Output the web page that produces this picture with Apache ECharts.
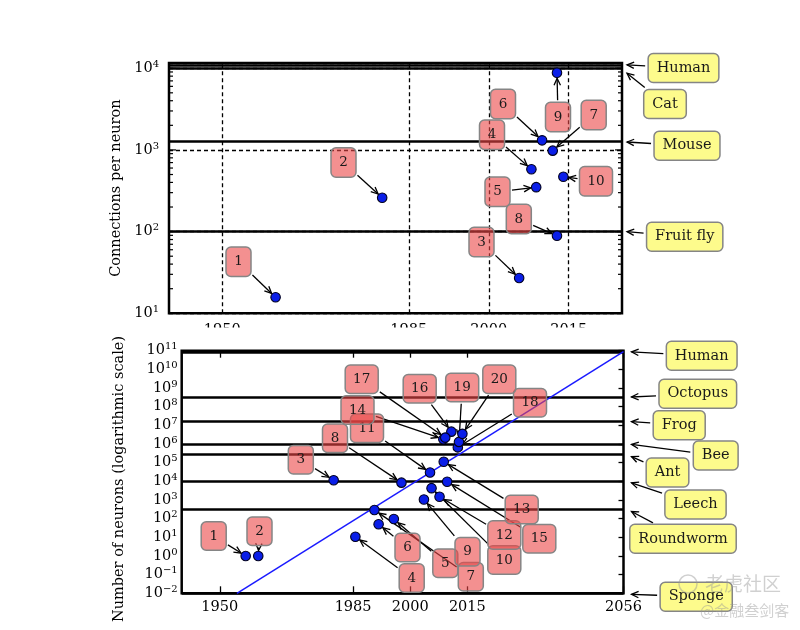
<!DOCTYPE html>
<html><head><meta charset="utf-8">
<script src="https://cdn.jsdelivr.net/npm/echarts@6/dist/echarts.min.js"></script>
<style>html,body{margin:0;padding:0;background:#fff}#c{width:800px;height:630px}</style>
</head><body><div id="c"></div>
<script>
// ---------------- data ----------------
const topXTicks = [1950, 1985, 2000, 2015];
const topLabels = ['1','2','3','4','5','6','7','8','9','10'];
const topYears = [1960, 1980, 2005.7, 2008.0, 2008.9, 2010.0, 2012.0, 2012.8, 2012.8, 2014.0];
const topConnections = [15.7, 260, 27, 580, 350, 1310, 980, 89, 8800, 470];
const topRefNames = ['Human', 'Cat', 'Mouse', 'Fruit fly'];
const topRefValues = [11000, 10000, 1250, 100];

const botXTicks = [1950, 1985, 2000, 2015, 2056];
const botLabels = ['1','2','3','4','5','6','7','8','9','10','11','12','13','14','15','16','17','18','19','20'];
const botYears = [1956.8, 1960.1, 1979.9, 1985.6, 1995.7, 1991.7, 1990.6, 1997.7, 2003.6, 2005.6,
                  2005.2, 2007.7, 2008.8, 2008.7, 2009.7, 2010.8, 2009.2, 2012.5, 2012.8, 2013.7];
const botNeurons = [1, 1, 11500, 10.7, 95, 50, 290, 8500, 1070, 4300,
                    29500, 1500, 112000, 1.8e6, 9500, 4.6e6, 2.2e6, 6.6e5, 1.3e6, 3.5e6];
const botRefNames = ['Human', 'Octopus', 'Frog', 'Bee', 'Ant', 'Leech', 'Roundworm', 'Sponge'];
const botRefValues = [8.6e10, 3.3e8, 1.6e7, 9.6e5, 2.9e5, 1e4, 330, 0.01];
const trendYears = [1954.5, 2056];
const trendNeurons = [0.01, 9e10];

// ---------------- layout (pixels) ----------------
const topLabelPos = [[238.5,261.7],[343.5,162.5],[481.5,242],[492,134.7],[497.5,191.8],[503,104],[593.7,115],[518.8,219],[558,117],[596,181.3]];
const topRefBoxPos = [[683.5,68],[665,104],[687,145.7],[684.7,236.7]];
const topRefArrowDy = [0, 5, 0, 0];
const botLabelPos = [[213.7,536],[259.5,531.3],[300.8,459.8],[411.7,578],[445.3,563.3],[407.5,547.5],[470.8,576.7],[335,438.3],[467.5,551.7],[504.3,560],
                     [367,428.3],[504.3,535],[521.7,509.5],[357.5,410],[539.3,538.8],[419.7,388.7],[361.7,379.2],[530,402.8],[462.2,387.5],[499.3,379.2]];
const botRefBoxPos = [[701.7,355.8],[697.8,393.7],[679.2,425.2],[715.7,455.5],[667.5,472.5],[695.5,504.5],[683,538.8],[696.2,596.7]];
const botRefArrowDy = [0, 0, 0, 0, 2.5, 1.5, 2.5, 1];

const FONT = '"DejaVu Serif", "Liberation Serif", serif';
const RED = 'rgba(235,70,70,0.6)';
const YEL = '#fdfb8c';
const BOXLINE = '#858585';
const log10 = Math.log10;

const mctx = document.createElement('canvas').getContext('2d');
function textW(t, size) { mctx.font = size + 'px "DejaVu Serif"'; return mctx.measureText(t).width; }

function expLabel(v) {
  const r = Math.round(v);
  if (Math.abs(v - r) > 1e-6) return '';
  return '{b|10}{s|' + (r < 0 ? '\u2212' + (-r) : r) + '}';
}
function yearLabel(v) { return String(Math.round(v)); }
const richLbl = {
  b: { fontFamily: FONT, fontSize: 14.5, lineHeight: 18, color: '#000' },
  s: { fontFamily: FONT, fontSize: 10, lineHeight: 8, verticalAlign: 'top', color: '#000' }
};

function arrowEls(x1, y1, x2, y2) {
  const dx = x2 - x1, dy = y2 - y1, L = Math.hypot(dx, dy) || 1, ux = dx / L, uy = dy / L;
  const hl = 7, hw = 3.2, bx = x2 - ux * hl, by = y2 - uy * hl, px = -uy, py = ux;
  return [
    { type: 'line', shape: { x1: x1, y1: y1, x2: x2, y2: y2 }, style: { stroke: '#000', lineWidth: 1.3 } },
    { type: 'polyline', shape: { points: [[bx + px * hw, by + py * hw], [x2, y2], [bx - px * hw, by - py * hw]] },
      style: { stroke: '#000', fill: null, lineWidth: 1.3 } }
  ];
}
function boxExit(cx, cy, hw, hh, tx, ty, gap) {
  const dx = tx - cx, dy = ty - cy, L = Math.hypot(dx, dy) || 1;
  const t = Math.min(hw / Math.max(Math.abs(dx), 1e-9), hh / Math.max(Math.abs(dy), 1e-9));
  return [cx + dx * t + dx / L * gap, cy + dy * t + dy / L * gap];
}
function boxEls(cx, cy, w, h, text, fill, size) {
  return [
    { type: 'rect', shape: { x: cx - w / 2, y: cy - h / 2, width: w, height: h, r: 5 }, style: { fill: fill, stroke: BOXLINE, lineWidth: 1.5 } },
    { type: 'text', style: { text: text, x: cx, y: cy, align: 'center', verticalAlign: 'middle', font: size + 'px ' + FONT, fill: '#1a1a1a' } }
  ];
}

function pointAnnots(xi, yi, years, vals, labels, pos, boxH) {
  const data = years.map((x, i) => [x, log10(vals[i]), i]);
  const geom = (api) => {
    const i = api.value(2);
    const p = api.coord([api.value(0), api.value(1)]);
    const c = pos[i], w = labels[i].length > 1 ? 33 : 25;
    return { i, p, c, w };
  };
  return [{
    type: 'custom', xAxisIndex: xi, yAxisIndex: yi, z: 3, silent: true, clip: false, data: data,
    encode: { x: 0, y: 1 },
    renderItem: function (params, api) {
      const g = geom(api);
      const s = boxExit(g.c[0], g.c[1], g.w / 2, boxH / 2, g.p[0], g.p[1], 2);
      const L = Math.hypot(g.p[0] - s[0], g.p[1] - s[1]) || 1;
      const e = [g.p[0] - (g.p[0] - s[0]) / L * 5.5, g.p[1] - (g.p[1] - s[1]) / L * 5.5];
      return { type: 'group', children: arrowEls(s[0], s[1], e[0], e[1]) };
    }
  }, {
    type: 'custom', xAxisIndex: xi, yAxisIndex: yi, z: 4, silent: true, clip: false, data: data,
    encode: { x: 0, y: 1 },
    renderItem: function (params, api) {
      const g = geom(api);
      return { type: 'group', children: boxEls(g.c[0], g.c[1], g.w, boxH, labels[g.i], RED, 13.5) };
    }
  }];
}

function refAnnots(xi, yi, xmax, names, vals, pos, dys, endDx) {
  return {
    type: 'custom', xAxisIndex: xi, yAxisIndex: yi, z: 4, silent: true, clip: false,
    data: vals.map((v, i) => [xmax, log10(v), i]), encode: { x: 0, y: 1 },
    renderItem: function (params, api) {
      const i = api.value(2);
      const p = api.coord([api.value(0), api.value(1)]);
      const end = [p[0] + endDx, p[1] + dys[i]];
      const c = pos[i], w = textW(names[i], 14.5) + 17, h = 29;
      const s = boxExit(c[0], c[1], w / 2, h / 2, end[0], end[1], 3);
      return { type: 'group', children: arrowEls(s[0], s[1], end[0], end[1]).concat(boxEls(c[0], c[1], w, h, names[i], YEL, 14.5)) };
    }
  };
}

// minor ticks for top log axis
const topTickVals = [];
for (let n = 1; n <= 3; n++) for (let k = 1; k <= 9; k++) topTickVals.push([k, log10(k * Math.pow(10, n))]);
topTickVals.push([1, 4]);

const dotStyle = { color: '#0a1ee8', borderColor: '#000020', borderWidth: 1.1, opacity: 1 };
const axisFont = { fontFamily: FONT, fontSize: 14.5, color: '#000' };
const noLine = { show: false, onZero: false };

const option = {
  animation: false,
  backgroundColor: '#fff',
  grid: [
    { left: 169, top: 63, width: 453, height: 250.3, show: true, borderColor: '#000', borderWidth: 2.5, backgroundColor: 'rgba(0,0,0,0)' },
    { left: 181.7, top: 350.7, width: 441.8, height: 242.6, show: true, borderColor: '#000', borderWidth: 2.5, backgroundColor: 'rgba(0,0,0,0)' }
  ],
  xAxis: [
    { gridIndex: 0, type: 'value', min: 1940, max: 2025, axisLine: noLine, axisTick: { show: false },
      splitLine: { show: false }, axisLabel: Object.assign({ customValues: topXTicks, margin: 9, formatter: yearLabel }, axisFont) },
    { gridIndex: 1, type: 'value', min: 1940, max: 2056, position: 'bottom', axisLine: noLine,
      axisTick: { show: true, inside: true, length: 7, customValues: botXTicks, lineStyle: { color: '#000', width: 1.3 } },
      splitLine: { show: false }, axisLabel: Object.assign({ customValues: botXTicks, margin: 6, formatter: yearLabel }, axisFont) },
    { gridIndex: 1, type: 'value', min: 1940, max: 2056, position: 'top', axisLine: noLine,
      axisTick: { show: true, inside: true, length: 7, customValues: botXTicks, lineStyle: { color: '#000', width: 1.3 } },
      splitLine: { show: false }, axisLabel: { show: false } }
  ],
  yAxis: [
    { gridIndex: 0, type: 'value', min: 1, max: 4.064, interval: 1,
      name: 'Connections per neuron', nameLocation: 'middle', nameGap: 36, nameRotate: 90,
      nameTextStyle: axisFont,
      axisLine: noLine, axisTick: { show: false },
      splitLine: { show: true, lineStyle: { type: [4, 3], color: '#000', width: 1.3 } },
      axisLabel: { formatter: expLabel, rich: richLbl, margin: 10, showMaxLabel: false, showMinLabel: true } },
    { gridIndex: 1, type: 'value', min: -2, max: 11, interval: 1,
      name: 'Number of neurons (logarithmic scale)', nameLocation: 'middle', nameGap: 55, nameRotate: 90,
      nameTextStyle: Object.assign({ padding: [0, 14, 0, 0] }, axisFont),
      axisLine: noLine, axisTick: { show: false }, splitLine: { show: false },
      axisLabel: { formatter: expLabel, rich: richLbl, margin: 4, showMinLabel: true, showMaxLabel: true, hideOverlap: false } },
    { gridIndex: 1, type: 'value', min: -2, max: 11, interval: 1, position: 'right',
      axisLine: noLine, axisTick: { show: true, inside: true, length: 5, lineStyle: { color: '#000', width: 1.3 } },
      splitLine: { show: false }, axisLabel: { show: false } }
  ],
  graphic: [
    { type: 'rect', z: 50, shape: { x: 140, y: 327.5, width: 520, height: 11 }, style: { fill: '#fff' } },
    { type: 'text', z: 60, style: { text: '老虎社区', x: 705, y: 574, font: '19px "Noto Sans CJK SC"', fill: 'rgba(150,150,150,0.45)' } },
    { type: 'circle', z: 60, shape: { cx: 688, cy: 584, r: 9 }, style: { fill: 'none', stroke: 'rgba(150,150,150,0.45)', lineWidth: 1.5 } },
    { type: 'text', z: 60, style: { text: '@金融叁剑客', x: 700, y: 603, font: '15px "Noto Sans CJK SC"', fill: 'rgba(150,150,150,0.45)' } }
  ],
  series: [
    { type: 'scatter', xAxisIndex: 0, yAxisIndex: 0, z: 5, symbolSize: 9.5, itemStyle: dotStyle, silent: true,
      data: topYears.map((x, i) => [x, log10(topConnections[i])]),
      markLine: { z: 2, silent: true, symbol: ['none', 'none'], label: { show: false },
        data: topXTicks.map(x => ({ xAxis: x, lineStyle: { type: [4, 3], color: '#000', width: 1.3 } }))
          .concat(topRefValues.map(v => ({ yAxis: log10(v), lineStyle: { type: 'solid', color: '#000', width: 2.5 } }))) } },
    { type: 'custom', xAxisIndex: 0, yAxisIndex: 0, z: 6, silent: true, clip: false, data: topTickVals,
      encode: { x: 0, y: 1 },
      renderItem: function (params, api) {
        const k = api.value(0), v = api.value(1);
        const l = api.coord([1940, v]), r = api.coord([2025, v]);
        const len = k === 1 ? 7 : 4;
        return { type: 'group', children: [
          { type: 'line', shape: { x1: l[0], y1: l[1], x2: l[0] + len, y2: l[1] }, style: { stroke: '#000', lineWidth: 1.2 } },
          { type: 'line', shape: { x1: r[0] - len, y1: r[1], x2: r[0], y2: r[1] }, style: { stroke: '#000', lineWidth: 1.2 } }
        ] };
      } },
    refAnnots(0, 0, 2025, topRefNames, topRefValues, topRefBoxPos, topRefArrowDy, 5),
    { type: 'line', xAxisIndex: 1, yAxisIndex: 1, z: 3, symbol: 'none', silent: true,
      lineStyle: { color: '#1a1aff', width: 1.5 },
      data: trendYears.map((x, i) => [x, log10(trendNeurons[i])]) },
    { type: 'scatter', xAxisIndex: 1, yAxisIndex: 1, z: 5, symbolSize: 9.5, itemStyle: dotStyle, silent: true,
      data: botYears.map((x, i) => [x, log10(botNeurons[i])]),
      markLine: { z: 2, silent: true, symbol: ['none', 'none'], label: { show: false },
        data: botRefValues.map(v => ({ yAxis: log10(v), lineStyle: { type: 'solid', color: '#000', width: 2.5 } })) } },
    refAnnots(1, 1, 2056, botRefNames, botRefValues, botRefBoxPos, botRefArrowDy, 8)
  ].concat(pointAnnots(0, 0, topYears, topConnections, topLabels, topLabelPos, 29.5))
   .concat(pointAnnots(1, 1, botYears, botNeurons, botLabels, botLabelPos, 28.5))
};

const chart = echarts.init(document.getElementById('c'), null, { renderer: 'canvas' });
chart.setOption(option);
</script>
</body></html>
